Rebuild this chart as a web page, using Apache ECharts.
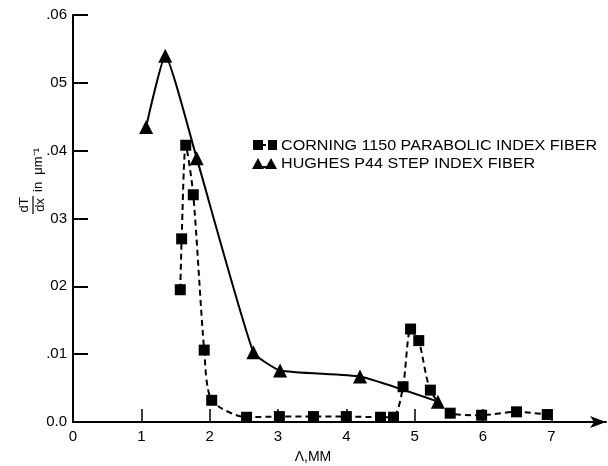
<!DOCTYPE html>
<html>
<head>
<meta charset="utf-8">
<script src="https://cdn.jsdelivr.net/npm/echarts@6/dist/echarts.min.js"></script>
<style>html,body{margin:0;padding:0;background:#fff}#c{width:608px;height:466px}</style>
</head>
<body>
<div id="c"></div>
<script>
const seriesNames = ['CORNING 1150 PARABOLIC INDEX FIBER', 'HUGHES P44 STEP INDEX FIBER'];
const corningX = [1.57, 1.59, 1.65, 1.76, 1.92, 2.03, 2.54, 3.02, 3.52, 4.0, 4.5, 4.69, 4.83, 4.94, 5.06, 5.23, 5.52, 5.98, 6.49, 6.94];
const corningY = [0.0195, 0.027, 0.0408, 0.0335, 0.0106, 0.0032, 0.0007, 0.0008, 0.0008, 0.0008, 0.0007, 0.0007, 0.0052, 0.0137, 0.012, 0.0047, 0.0013, 0.001, 0.0015, 0.0011];
const hughesX = [1.07, 1.35, 1.81, 2.64, 3.03, 4.2, 5.34];
const hughesY = [0.0435, 0.054, 0.0389, 0.0103, 0.0076, 0.0067, 0.003];
const xTickValues = [0, 1, 2, 3, 4, 5, 6, 7];
const yTickValues = [0, 0.01, 0.02, 0.03, 0.04, 0.05, 0.06];
const yTickLabels = ['0.0', '.01', '02', '03', '.04', '05', '.06'];
const xTitle = 'Λ,MM';

const chart = echarts.init(document.getElementById('c'), null, {renderer: 'canvas'});
const font = 'Liberation Sans, Arial, Helvetica, sans-serif';
const legFont = '14px "Liberation Sans", Arial, sans-serif';
const pair = (xs, ys) => xs.map((x, i) => [x, ys[i]]);

chart.setOption({
  animation: false,
  backgroundColor: '#fff',
  textStyle: {fontFamily: font, color: '#000'},
  grid: {left: 73, top: 15, width: 533, bottom: 44, containLabel: false},
  xAxis: {
    type: 'value', min: 0, max: 7.8, interval: 1,
    axisLine: {show: true, lineStyle: {color: '#000', width: 2}, symbol: ['none', 'arrow'], symbolSize: [9, 16]},
    axisTick: {show: true, inside: true, length: 13, lineStyle: {color: '#000', width: 1.5}, customValues: xTickValues},
    axisLabel: {color: '#000', fontSize: 15, margin: 7, customValues: xTickValues, fontFamily: font},
    splitLine: {show: false}
  },
  yAxis: {
    type: 'value', min: 0, max: 0.06, interval: 0.01,
    axisLine: {show: true, lineStyle: {color: '#000', width: 2}},
    axisTick: {show: true, inside: true, length: 15, lineStyle: {color: '#000', width: 2}},
    axisLabel: {color: '#000', fontSize: 15, margin: 6, fontFamily: font,
      formatter: v => { const i = yTickValues.findIndex(t => Math.abs(t - v) < 1e-9); return i >= 0 ? yTickLabels[i] : ''; }},
    splitLine: {show: false}
  },
  legend: {show: false, data: seriesNames},
  graphic: [
    {
      type: 'group', x: 33, y: 205, rotation: Math.PI / 2,
      children: [
        {type: 'text', x: 0, y: -2, style: {text: 'dT', font: '13px ' + font, fill: '#000', align: 'center', verticalAlign: 'bottom'}},
        {type: 'line', shape: {x1: -9, y1: 0, x2: 9, y2: 0}, style: {stroke: '#000', lineWidth: 1.2}},
        {type: 'text', x: 0, y: 1, style: {text: 'dx', font: '13px ' + font, fill: '#000', align: 'center', verticalAlign: 'top'}},
        {type: 'text', x: 13, y: 5, style: {text: 'in  μm⁻¹', font: '13px ' + font, fill: '#000', align: 'left', verticalAlign: 'middle'}}
      ]
    },
    {type: 'text', x: 313, y: 457, style: {text: xTitle, font: '14px ' + font, fill: '#000', align: 'center', verticalAlign: 'middle'}},
    // legend (line 1)
    {type: 'line', shape: {x1: 262, y1: 145, x2: 270, y2: 145}, style: {stroke: '#000', lineWidth: 2, lineDash: [4, 3]}},
    {type: 'rect', shape: {x: 253, y: 140, width: 10, height: 10}, style: {fill: '#000'}},
    {type: 'rect', shape: {x: 268, y: 140, width: 9, height: 10}, style: {fill: '#000'}},
    {type: 'text', x: 281, y: 146, scaleX: 1.15, style: {text: seriesNames[0], font: legFont, fill: '#000', align: 'left', verticalAlign: 'middle'}},
    // legend (line 2)
    {type: 'line', shape: {x1: 258, y1: 167, x2: 271, y2: 167}, style: {stroke: '#000', lineWidth: 2}},
    {type: 'polygon', shape: {points: [[258, 158], [252, 169], [264, 169]]}, style: {fill: '#000'}},
    {type: 'polygon', shape: {points: [[271, 158], [265, 169], [277, 169]]}, style: {fill: '#000'}},
    {type: 'text', x: 281, y: 164, scaleX: 1.15, style: {text: seriesNames[1], font: legFont, fill: '#000', align: 'left', verticalAlign: 'middle'}}
  ],
  series: [
    {
      name: seriesNames[0], type: 'line', data: pair(corningX, corningY),
      smooth: 0.25, symbol: 'rect', symbolSize: 11, showSymbol: true,
      lineStyle: {color: '#000', width: 2, type: [6, 4]},
      itemStyle: {color: '#000'}, z: 3
    },
    {
      name: seriesNames[1], type: 'line', data: pair(hughesX, hughesY),
      smooth: 0.15, symbol: 'triangle', symbolSize: 14, showSymbol: true,
      lineStyle: {color: '#000', width: 2},
      itemStyle: {color: '#000'}, z: 2
    }
  ]
});
</script>
</body>
</html>
